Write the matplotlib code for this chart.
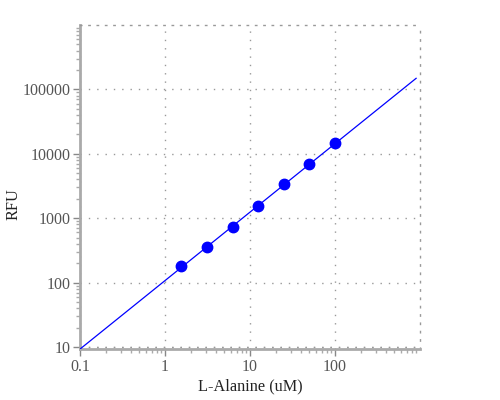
import numpy as np
import matplotlib
matplotlib.use("Agg")
import matplotlib.pyplot as plt
from matplotlib.ticker import FixedLocator, LogLocator, FuncFormatter, NullFormatter

plt.rcParams['font.family'] = ['Liberation Serif', 'DejaVu Serif']

# data
conc = [1.5625, 3.125, 6.25, 12.5, 25, 50, 100]
rfu = [180, 355, 725, 1535, 3365, 6870, 14550]
xticks = [0.1, 1, 10, 100]
yticks = [10, 100, 1000, 10000, 100000]

# power-law fit in log space
slope, icpt = np.polyfit(np.log10(conc), np.log10(rfu), 1)
xfit = np.array([0.1, 900])
yfit = 10 ** (icpt + slope * np.log10(xfit))

fig = plt.figure(figsize=(5, 4), dpi=100)
ax = fig.add_axes([0.16, 0.1275, 0.68, 0.81])

ax.plot(xfit, yfit, color='#0000ff', lw=0.9, zorder=3)
ax.plot(conc, rfu, 'o', color='#0000ff', ms=7.5, zorder=4)

ax.set_xscale('log')
ax.set_yscale('log')
ax.set_xlim(0.1, 1000)
ax.set_ylim(9.3, 1e6)

grey = '#999999'
ax.xaxis.set_major_locator(FixedLocator(xticks))
ax.yaxis.set_major_locator(FixedLocator(yticks))
fmt = FuncFormatter(lambda v, p: '%g' % v)
ax.xaxis.set_major_formatter(fmt)
ax.yaxis.set_major_formatter(fmt)
ax.xaxis.set_minor_locator(LogLocator(base=10, subs=np.arange(2, 10)))
ax.yaxis.set_minor_locator(LogLocator(base=10, subs=np.arange(2, 10)))
ax.xaxis.set_minor_formatter(NullFormatter())
ax.yaxis.set_minor_formatter(NullFormatter())

ax.grid(True, which='major', color=grey, linestyle=(0, (1, 5)), lw=1)
ax.axhline(10, color=grey, linestyle=(0, (1, 5)), lw=1)

for s in ['left', 'bottom']:
    ax.spines[s].set_color('#aaaaaa')
    ax.spines[s].set_linewidth(2)
for s in ['top', 'right']:
    ax.spines[s].set_color(grey)
    ax.spines[s].set_linestyle((0, (1, 5)))
    ax.spines[s].set_linewidth(1)

ax.tick_params(which='major', length=5, width=1, color='#888888',
               labelcolor='#555555', labelsize=11.5, pad=2)
ax.tick_params(which='minor', length=3, width=1, color='#aaaaaa')

ax.set_xlabel('L-Alanine (uM)', fontsize=11.7, color='#222222', labelpad=3)
fig.text(13 / 500, 1 - 204 / 400, 'RFU', rotation=90, ha='center', va='center',
         fontsize=11.7, color='#222222')

fig.savefig('out.png', dpi=100)
